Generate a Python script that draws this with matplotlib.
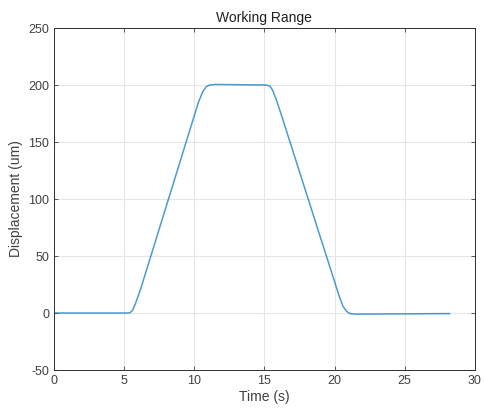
import matplotlib
matplotlib.use("Agg")
import matplotlib.pyplot as plt
import numpy as np

plt.rcParams['font.family'] = ['Liberation Sans', 'DejaVu Sans']
plt.rcParams['axes.unicode_minus'] = False

# displacement trace
time_s = [0, 5.3, 5.45, 5.6, 5.8, 6.2, 10.3, 10.6, 10.85, 11.1, 11.5,
          15.15, 15.4, 15.6, 15.85, 16.15, 20.3, 20.6, 20.85, 21.1, 21.5, 28.2]
disp_um = [0, 0, 0.5, 2.5, 8, 22, 185, 194, 198.5, 200, 200.5,
           200, 199, 195, 187, 176, 16, 6, 1.5, -0.5, -1, -0.5]

x_ticks = [0, 5, 10, 15, 20, 25, 30]
y_ticks = [-50, 0, 50, 100, 150, 200, 250]

text_col = '#404040'

fig = plt.figure(figsize=(4.84, 4.15), dpi=100)
ax = fig.add_axes([0.1116, 0.1084, 0.8694, 0.8241])

ax.plot(time_s, disp_um, color=(0, 0.447, 0.741), linewidth=1.1, alpha=0.7)

ax.set_xlim(0, 30)
ax.set_ylim(-50, 250)
ax.set_xticks(x_ticks)
ax.set_yticks(y_ticks)
ax.grid(True, color='#e6e6e6', linewidth=0.8)
ax.set_axisbelow(True)
ax.tick_params(direction='in', top=True, right=True, length=3, labelsize=9,
               colors=text_col, width=0.6)
for s in ax.spines.values():
    s.set_color('#303030')
    s.set_linewidth(0.7)

ax.set_xlabel('Time (s)', fontsize=10, color=text_col, labelpad=2)
ax.set_ylabel('Displacement (um)', fontsize=10, color=text_col, labelpad=4)
ax.set_title('Working Range', fontsize=10, color='#202020', pad=4)

fig.savefig('out.png', dpi=100)
